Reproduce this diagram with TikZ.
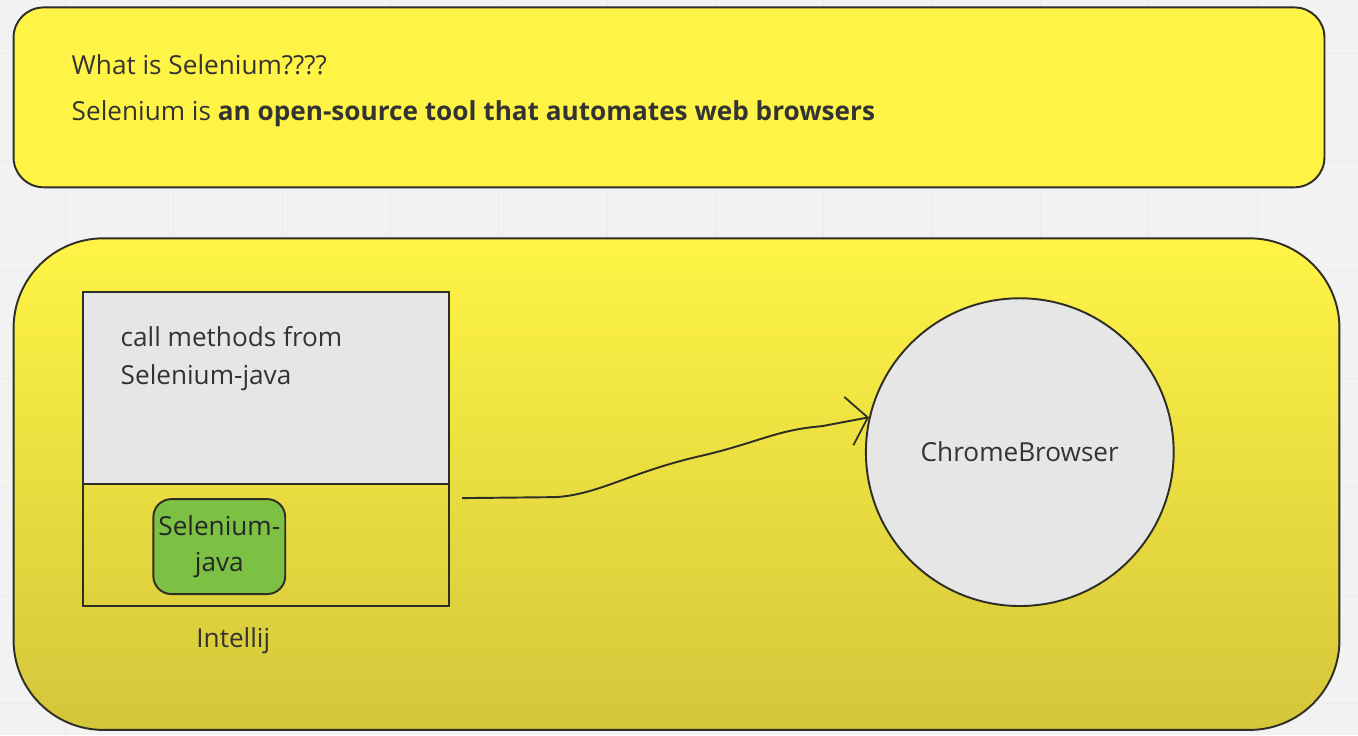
\documentclass[tikz,border=0pt]{standalone}
\usepackage{fontspec}
\setmainfont{Open Sans}
\usetikzlibrary{shapes,arrows,arrows.meta,positioning,calc}

\definecolor{boardgray}{HTML}{F2F2F2}
\definecolor{gridgray}{HTML}{EBEBEB}
\definecolor{noteyellow}{HTML}{FFF446}
\definecolor{deepyellow}{HTML}{D4C63A}
\definecolor{panegray}{HTML}{E6E6E6}
\definecolor{libgreen}{HTML}{7CC144}
\definecolor{inkgray}{HTML}{2E2E26}
\definecolor{textgray}{HTML}{333333}

\begin{document}
\begin{tikzpicture}[
    x=0.02cm, y=-0.02cm,
    txt/.style={font=\fontsize{14.9}{21.8}\selectfont, text=textgray, inner sep=0pt, align=left},
    note/.style={rectangle, draw=inkgray, line width=1.1pt, rounded corners=0.6cm, fill=noteyellow},
    area/.style={rectangle, draw=inkgray, line width=1.1pt, rounded corners=1.8cm, top color=noteyellow, bottom color=deepyellow},
    pane/.style={rectangle, draw=inkgray, line width=1.1pt, minimum width=7.32cm, inner sep=0pt, outer sep=0pt},
    lib/.style={rectangle, draw=inkgray, line width=1.1pt, rounded corners=0.36cm, fill=libgreen, minimum width=2.64cm, minimum height=1.9cm, align=center, inner sep=0pt, font=\fontsize{14.9}{20.5}\selectfont, text=black!85},
    browser/.style={circle, draw=inkgray, line width=1.1pt, fill=panegray, minimum size=6.16cm, inner sep=0pt, font=\fontsize{14.9}{21.8}\selectfont, text=textgray},
    sketch/.style={-{Straight Barb[length=11pt, width=28pt, line width=1pt]}, line width=1.1pt, inkgray}
]

% Board background with faint grid
\fill[boardgray] (0,0) rectangle (1358,735);
\foreach \gx in {65,173.4,...,1358} \draw[gridgray, line width=0.5pt] (\gx,0) -- (\gx,735);
\foreach \gy in {53,161.4,...,735} \draw[gridgray, line width=0.5pt] (0,\gy) -- (1358,\gy);
\useasboundingbox (0,0) rectangle (1358,735);

% Question box (top)
\node[note, minimum width=26.24cm, minimum height=3.6cm] (intro) at (669,97) {};
\node[txt, anchor=west] (question) at (71,64) {What is Selenium????};
\node[txt, anchor=west] (definition) at (71,113) {Selenium is \textbf{an open-source tool that automates web browsers}};

% Setup area (bottom)
\node[area, minimum width=26.54cm, minimum height=9.84cm] (setup) at (676.5,484) {};

% Intellij: editor part and library part
\node[pane, fill=panegray, minimum height=3.84cm] (editor) at (266,388) {};
\node[pane, below=0pt of editor, minimum height=2.44cm] (libs) {};
\node[txt, anchor=west] (calls) at (120,358.5) {call methods from\\Selenium-java};
\node[lib] (seljava) at (219,546.5) {Selenium-\\java};
\node[txt] (ide) at (233,641) {Intellij};

% Browser
\node[browser] (chrome) at (1020,452) {ChromeBrowser};

% Hand-drawn call from Intellij to the browser
\coordinate (src) at (462,498);
\draw[sketch] (src) -- (556,497)
  .. controls (600,494) and (630,472) .. (700,456)
  .. controls (760,442) and (775,430) .. (822,426)
  -- (chrome.167);

\end{tikzpicture}
\end{document}
